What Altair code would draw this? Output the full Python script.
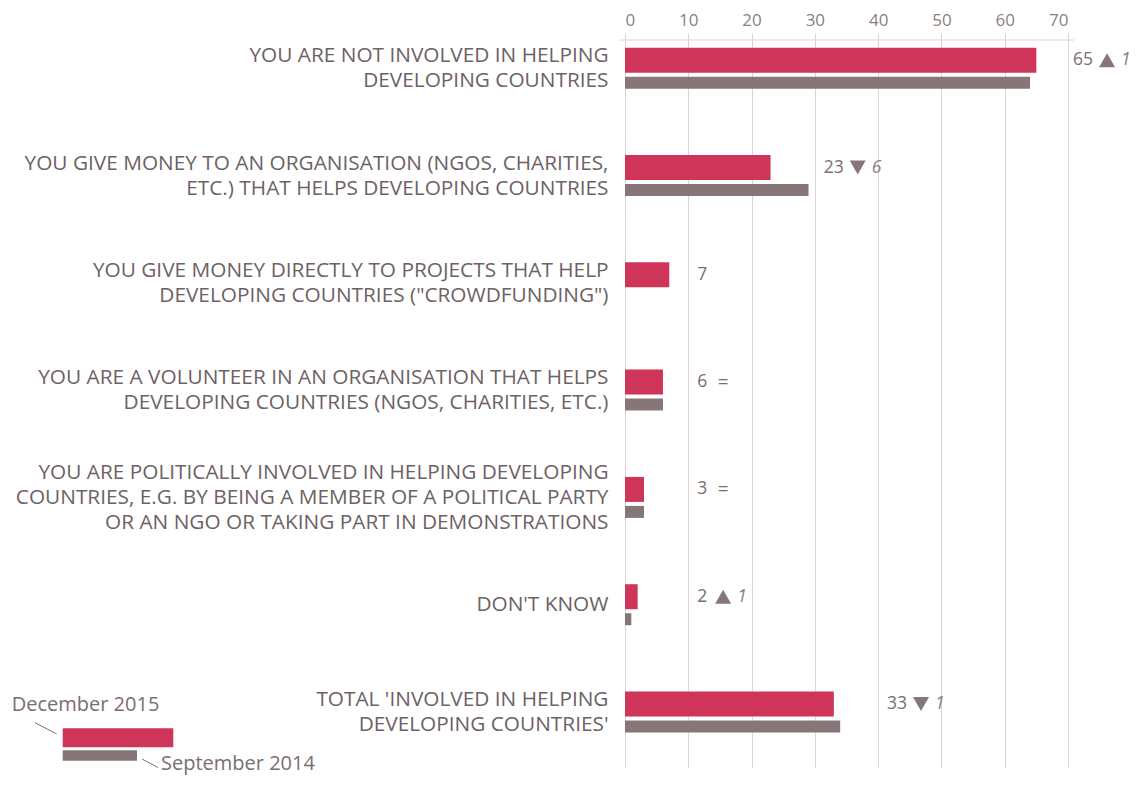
import altair as alt
import pandas as pd

categories = [
    "YOU ARE NOT INVOLVED IN HELPING|DEVELOPING COUNTRIES",
    "YOU GIVE MONEY TO AN ORGANISATION (NGOS, CHARITIES,|ETC.) THAT HELPS DEVELOPING COUNTRIES",
    "YOU GIVE MONEY DIRECTLY TO PROJECTS THAT HELP|DEVELOPING COUNTRIES (\"CROWDFUNDING\")",
    "YOU ARE A VOLUNTEER IN AN ORGANISATION THAT HELPS|DEVELOPING COUNTRIES (NGOS, CHARITIES, ETC.)",
    "YOU ARE POLITICALLY INVOLVED IN HELPING DEVELOPING|COUNTRIES, E.G. BY BEING A MEMBER OF A POLITICAL PARTY|OR AN NGO OR TAKING PART IN DEMONSTRATIONS",
    "DON'T KNOW",
    "TOTAL 'INVOLVED IN HELPING|DEVELOPING COUNTRIES'",
]
dec2015 = [65, 23, 7, 6, 3, 2, 33]
sep2014 = [64, 29, None, 6, 3, 1, 34]
x_ticks = [0, 10, 20, 30, 40, 50, 60, 70]
legend_labels = ["December 2015", "September 2014"]

FONT = "Open Sans"
RED = "#cf3558"
GREY = "#877678"
TXT = "#6d6264"
LIGHT = "#ddd4d1"
W, H = 443, 728
PX = W / 70.0
LH = 25

df = pd.DataFrame({"cat": categories, "dec": dec2015, "sep": sep2014})

xscale = alt.Scale(domain=[0, 70], nice=False, zero=True)
xaxis = alt.Axis(orient="top", values=x_ticks, title=None, domain=False,
                 grid=True, gridColor=LIGHT, gridWidth=1,
                 ticks=True, tickColor=LIGHT, tickSize=7,
                 labelFont=FONT, labelFontSize=17, labelColor="#8a7f81",
                 labelPadding=4)
yscale = alt.Scale(type="point", domain=categories, padding=0.3923, align=0.335)
yaxis = alt.Axis(title=None, domain=False, ticks=False, grid=False,
                 labelExpr="split(datum.label, '|')", labelFont=FONT,
                 labelFontSize=20.8, labelLineHeight=LH, labelColor=TXT,
                 labelAlign="right", labelBaseline="middle",
                 labelPadding=17, labelLimit=2000,
                 labelOffset={"condition": [
                     {"test": "length(split(datum.label, '|')) == 3", "value": -LH},
                     {"test": "length(split(datum.label, '|')) == 2", "value": -LH / 2},
                 ], "value": 0})


def X(field):
    return alt.X(field, type="quantitative", scale=xscale, axis=xaxis)


Y = alt.Y("cat:N", scale=yscale, axis=yaxis, sort=categories)

base = alt.Chart(df).transform_calculate(
    chg="isValid(datum.sep) ? datum.dec - datum.sep : null",
    label_x="datum.dec < 10 ? 11.4 : (datum.dec > 60 ? datum.dec + 5.8 : datum.dec + 8.4)",
    nd="length(toString(datum.dec))",
).transform_calculate(
    arrow_x=f"datum.label_x + (8 * datum.nd + 18) / {PX}",
    chg_x=f"datum.label_x + (8 * datum.nd + 32) / {PX}",
    abschg="abs(datum.chg)",
    dir="datum.chg > 0 ? 'up' : 'down'",
)

bars_dec = base.mark_bar(size=25, yOffset=-8, color=RED).encode(x=X("dec"), y=Y)
bars_sep = base.mark_bar(size=12, yOffset=14.5, color=GREY).encode(x=X("sep"), y=Y)

val_text = base.mark_text(align="left", baseline="middle", dy=-8, font=FONT,
                          fontSize=17.5, color="#7a6e70").encode(
    x=X("label_x"), y=Y, text=alt.Text("dec:Q"))

tri = base.transform_filter("isValid(datum.chg) && datum.chg != 0").mark_point(
    filled=True, size=256, yOffset=-8, opacity=1, color=GREY).encode(
    x=X("arrow_x"), y=Y,
    shape=alt.Shape("dir:N", scale=alt.Scale(domain=["up", "down"],
                                             range=["triangle-up", "triangle-down"]),
                    legend=None))

eq_text = base.transform_filter("isValid(datum.chg) && datum.chg == 0").mark_text(
    align="center", baseline="middle", dy=-8, font=FONT, fontSize=19,
    color="#7a6e70").encode(x=X("arrow_x"), y=Y, text=alt.value("="))

chg_text = base.transform_filter("isValid(datum.chg) && datum.chg != 0").mark_text(
    align="left", baseline="middle", dy=-8, font=FONT, fontSize=17.5,
    fontStyle="italic", color="#8a7f81").encode(
    x=X("chg_x"), y=Y, text=alt.Text("abschg:Q"))

one = alt.Data(values=[{"k": 1}])

top_line = alt.Chart(one).mark_rule(color=LIGHT, strokeWidth=1).encode(
    x=alt.value(-6), x2=alt.value(W + 6), y=alt.value(0))

leg_red = alt.Chart(one).mark_bar(color=RED).encode(
    x=alt.value(-562.3), x2=alt.value(-451.7), y=alt.value(688.3), y2=alt.value(707.3))
leg_grey = alt.Chart(one).mark_bar(color=GREY).encode(
    x=alt.value(-562.3), x2=alt.value(-488), y=alt.value(710.3), y2=alt.value(720.7))
leg_l1 = alt.Chart(one).mark_rule(color="#7a6e70", strokeWidth=1).encode(
    x=alt.value(-590), x2=alt.value(-568.3), y=alt.value(682.7), y2=alt.value(694))
leg_l2 = alt.Chart(one).mark_rule(color="#7a6e70", strokeWidth=1).encode(
    x=alt.value(-483), x2=alt.value(-467), y=alt.value(719), y2=alt.value(727.5))
leg_t1 = alt.Chart(one).mark_text(align="left", baseline="middle", font=FONT,
                                  fontSize=20, color="#7a6e70").encode(
    x=alt.value(-613.3), y=alt.value(665), text=alt.value(legend_labels[0]))
leg_t2 = alt.Chart(one).mark_text(align="left", baseline="middle", font=FONT,
                                  fontSize=20, color="#7a6e70").encode(
    x=alt.value(-464), y=alt.value(723.5), text=alt.value(legend_labels[1]))

chart = alt.layer(
    bars_dec, bars_sep, val_text, tri, eq_text, chg_text, top_line,
    leg_red, leg_grey, leg_l1, leg_l2, leg_t1, leg_t2,
).properties(
    width=W, height=H,
    autosize=alt.AutoSizeParams(type="none"),
    padding={"left": 617, "top": 32, "right": 62, "bottom": 7},
    background="white",
).configure_view(stroke=None)

chart.save("out.html", embed_options={"renderer": "svg", "actions": False})
